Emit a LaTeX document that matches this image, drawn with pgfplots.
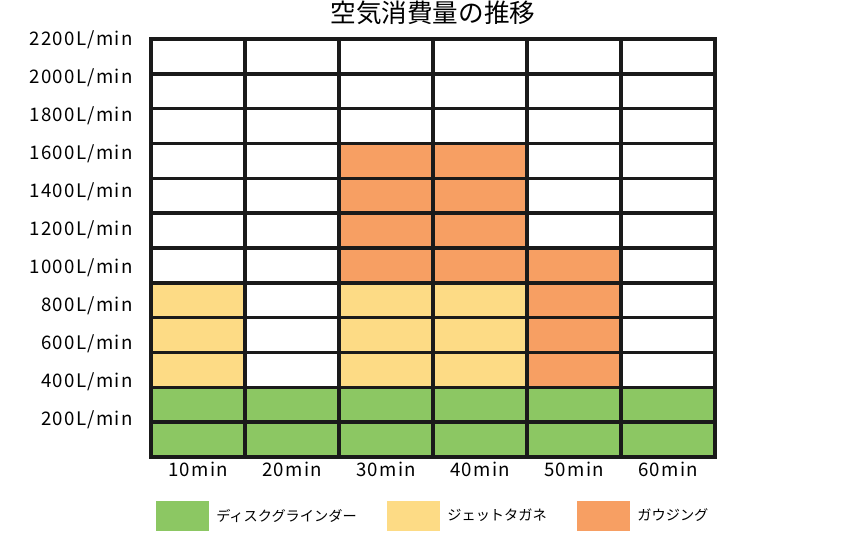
\documentclass[border=0pt]{standalone}
\usepackage{fontspec}
\setmainfont{Noto Sans CJK JP}
\newfontfamily\tickfont[LetterSpace=7]{Noto Sans CJK JP}
\usepackage{pgfplots}
\pgfplotsset{compat=1.18}

\definecolor{cgreen}{HTML}{8CC763}
\definecolor{cyellow}{HTML}{FDDB85}
\definecolor{corange}{HTML}{F79F63}
\definecolor{cgrid}{HTML}{1A1A1A}

\pgfplotsset{
  sq legend/.style={legend image code/.code={%
    \fill[##1] (0pt,-11.6pt) rectangle (39.75pt,11.6pt);
    \path (45pt,0pt);}},
}

\begin{document}
\begin{tikzpicture}
\begin{axis}[
  at={(0,0)}, anchor=south west,
  scale only axis, width=423pt, height=313.5pt,
  xmin=0.5, xmax=6.5, ymin=0, ymax=2200,
  ybar stacked, bar width=1,
  axis on top,
  xtick={1,2,3,4,5,6},
  xticklabels={10min,20min,30min,40min,50min,60min},
  ytick={200,400,...,2200},
  yticklabels={200L/min,400L/min,600L/min,800L/min,1000L/min,1200L/min,
    1400L/min,1600L/min,1800L/min,2000L/min,2200L/min},
  minor xtick={1.5,2.5,3.5,4.5,5.5},
  minor ytick={183.333,366.667,550,733.333,916.667,1100,1283.333,1466.667,1650,1833.333,2016.667},
  xminorgrids=true, yminorgrids=true,
  minor grid style={cgrid, line width=2.6pt},
  major tick length=0pt, minor tick length=0pt,
  axis line style={cgrid, line width=2.6pt},
  /pgf/number format/assume math mode=true,
  ticklabel style={font=\tickfont\fontsize{14}{16}\selectfont, inner sep=0pt},
  xticklabel style={anchor=base, yshift=-14.8pt},
  yticklabel style={anchor=base east, xshift=-13.5pt, yshift=-5pt},
  title={空気消費量の推移},
  title style={at={(axis description cs:0.5,1)}, anchor=base, yshift=6.75pt,
    inner sep=0pt, font=\fontsize{19.2}{22}\selectfont},
  legend columns=3,
  legend cell align=left,
  legend style={at={(axis description cs:0,0)}, anchor=west,
    xshift=3.75pt, yshift=-44.25pt, draw=none, fill=none,
    inner sep=0pt, column sep=0pt,
    font=\fontsize{10.65}{12}\selectfont, nodes={inner sep=0pt},
    /tikz/every even column/.append style={column sep=23pt}},
]
\addplot[fill=cgreen, draw=none, sq legend] coordinates
  {(1,366.667) (2,366.667) (3,366.667) (4,366.667) (5,366.667) (6,366.667)};
\addlegendentry{ディスクグラインダー}
\addplot[fill=cyellow, draw=none, sq legend] coordinates
  {(1,550) (2,0) (3,550) (4,550) (5,0) (6,0)};
\addlegendentry{ジェットタガネ}
\addplot[fill=corange, draw=none, sq legend] coordinates
  {(1,0) (2,0) (3,733.333) (4,733.333) (5,733.333) (6,0)};
\addlegendentry{ガウジング}
\end{axis}
\pgfresetboundingbox
\useasboundingbox (-113.25pt,-62.25pt) rectangle (534.75pt,342.75pt);
\end{tikzpicture}
\end{document}
